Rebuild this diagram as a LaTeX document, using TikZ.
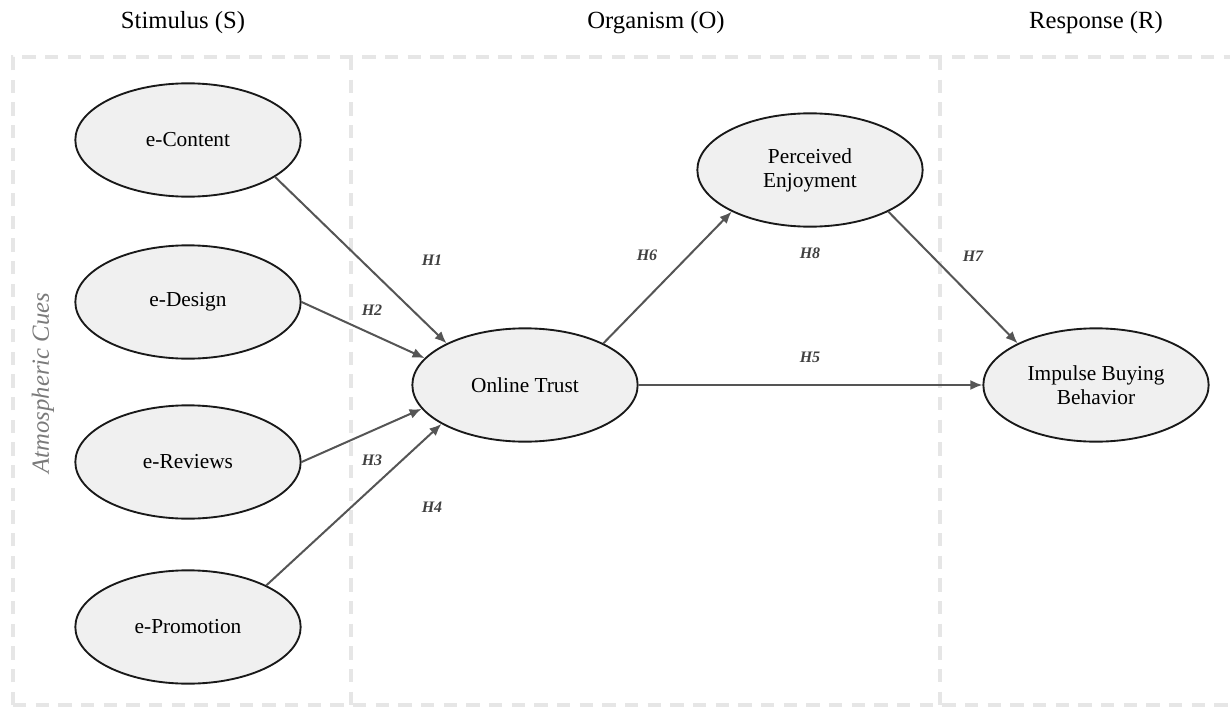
\documentclass[tikz,border=0pt]{standalone}
\usepackage{fontspec}
\setmainfont{Liberation Serif}
\usepackage{xcolor}
\usepackage{tikz}
\usetikzlibrary{positioning,arrows.meta,shapes.geometric}

\definecolor{nodefill}{HTML}{F0F0F0}
\definecolor{zonegray}{HTML}{E6E6E6}
\definecolor{linkgray}{HTML}{555555}
\definecolor{hypgray}{HTML}{404040}
\definecolor{cuegray}{HTML}{7A7A7A}

\begin{document}
\begin{tikzpicture}[
    x=0.75pt, y=-0.75pt,
    >={Latex[length=9pt,width=7.5pt]},
    construct/.style={draw=black!90, line width=1.4pt, ellipse, fill=nodefill, minimum width=169pt, minimum height=85pt, inner sep=2pt, align=center, font=\fontsize{16}{18}\selectfont},
    header/.style={font=\fontsize{18.5}{22}\selectfont},
    hyp/.style={text=hypgray, font=\fontsize{12}{14}\selectfont\bfseries\itshape},
    cue/.style={text=cuegray, font=\fontsize{18.5}{22}\selectfont\itshape},
    link/.style={->, draw=linkgray, line width=1.5pt},
    zone/.style={draw=zonegray, line width=2.5pt, dash pattern=on 10pt off 7pt}
]

\path[use as bounding box] (0,0) rectangle (1230,706);

% S-O-R panels
\draw[zone] (13,705) -- (13,57) -- (1240,57);
\draw[zone] (351,57) -- (351,705);
\draw[zone] (940,57) -- (940,705);
\draw[zone] (13,705) -- (1240,705);

\node[header] (stim) at (183,23) {Stimulus (S)};
\node[header] (org) at (656,23) {Organism (O)};
\node[header] (resp) at (1096,23) {Response (R)};
\node[cue, rotate=90] (cues) at (43,383) {Atmospheric Cues};

% constructs
\node[construct] (econt) at (188,140) {e-Content};
\node[construct] (edesign) at (188,302) {e-Design};
\node[construct] (erev) at (188,462) {e-Reviews};
\node[construct] (eprom) at (188,627) {e-Promotion};
\node[construct] (trust) at (525,385) {Online Trust};
\node[construct] (enjoy) at (810,170) {Perceived\\Enjoyment};
\node[construct] (impulse) at (1096,385) {Impulse Buying\\Behavior};

% hypotheses
\draw[link] (econt.-23) -- (trust.152);
\draw[link] (edesign.0) -- (trust.165);
\draw[link] (erev.0) -- (trust.193);
\draw[link] (eprom.28) -- (trust.205);
\draw[link] (trust.east) -- (impulse.west);
\draw[link] (trust.28) -- (enjoy.208);
\draw[link] (enjoy.-28) -- (impulse.152);

\node[hyp] (h1) at (432,260) {H1};
\node[hyp] (h2) at (372,310) {H2};
\node[hyp] (h3) at (372,460) {H3};
\node[hyp] (h4) at (432,507) {H4};
\node[hyp] (h5) at (810,357) {H5};
\node[hyp] (h6) at (647,255) {H6};
\node[hyp] (h7) at (973,256) {H7};
\node[hyp] (h8) at (810,253) {H8};

\end{tikzpicture}
\end{document}
